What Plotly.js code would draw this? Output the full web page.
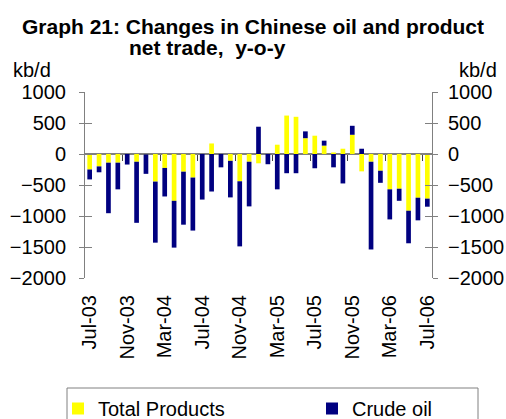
<!DOCTYPE html>
<html>
<head>
<meta charset="utf-8">
<script src="https://cdn.plot.ly/plotly-3.0.1.min.js"></script>
<style>
  html, body { margin: 0; padding: 0; background: #ffffff; }
  #chart { width: 506px; height: 419px; }
</style>
</head>
<body>
<div id="chart"></div>
<script>
// Monthly categories, Jul-03 to Jul-06
const months = ["Jul-03","Aug-03","Sep-03","Oct-03","Nov-03","Dec-03",
  "Jan-04","Feb-04","Mar-04","Apr-04","May-04","Jun-04","Jul-04","Aug-04","Sep-04","Oct-04","Nov-04","Dec-04",
  "Jan-05","Feb-05","Mar-05","Apr-05","May-05","Jun-05","Jul-05","Aug-05","Sep-05","Oct-05","Nov-05","Dec-05",
  "Jan-06","Feb-06","Mar-06","Apr-06","May-06","Jun-06","Jul-06"];

// Total Products y-o-y change (kb/d)
const totalProducts = [-250, -200, -140, -140, 0, -125,
  -5, -445, -225, -755, -285, -380, 0, 170, 0, -110, -440, -125,
  -150, 0, 150, 620, 600, 255, 295, 135, 25, 85, 310, -280,
  -125, -270, -570, -560, -915, -705, -720];

// Crude oil y-o-y change (kb/d)
const crudeOil = [-160, -95, -815, -430, -170, -985,
  -315, -985, -460, -755, -855, -855, -735, -605, -215, -590, -1050, -720,
  440, -165, -570, -310, -310, 110, -230, 80, -215, -475, 145, 85,
  -1415, -195, -485, -195, -525, -365, -130];

// Labelled months on the category axis
const tickLabels = ["Jul-03","Nov-03","Mar-04","Jul-04","Nov-04","Mar-05","Jul-05","Nov-05","Mar-06","Jul-06"];
const yTicks = [1000, 500, 0, -500, -1000, -1500, -2000];

// Tick marks on the zero line sit at the boundary before each labelled month
const boundaryTicks = tickLabels.slice(1).map(m => months.indexOf(m) - 0.5);

const FONT = '"Liberation Sans", Arial, sans-serif';

// plot area in pixels (used only to convert layout positions to paper fractions)
const PL = 85, PR = 432, PT = 92, PB = 278;
const px = v => (v - PL) / (PR - PL);
const py = v => (PB - v) / (PB - PT);

const traces = [
  {
    type: 'bar', name: 'Total Products', x: months, y: totalProducts,
    marker: { color: '#FFFF00', line: { width: 0 } }, legend: 'legend'
  },
  {
    type: 'bar', name: 'Crude oil', x: months, y: crudeOil,
    marker: { color: '#000080', line: { width: 0 } }, legend: 'legend2'
  },
  {
    // helper trace so the overlay axes (zero-line ticks, right axis) are drawn
    type: 'scatter', mode: 'markers', x: [0], y: [null],
    xaxis: 'x2', yaxis: 'y2', showlegend: false, hoverinfo: 'skip'
  }
];

const yZeroPos = (0 - yTicks[yTicks.length - 1]) / (yTicks[0] - yTicks[yTicks.length - 1]);

const legendCommon = {
  orientation: 'h', xanchor: 'left', yanchor: 'top',
  borderwidth: 0, bgcolor: 'rgba(0,0,0,0)',
  font: { family: FONT, size: 20, color: '#000000' }
};

const layout = {
  width: 506, height: 419,
  margin: { l: PL, r: 506 - PR, t: PT, b: 419 - PB, autoexpand: false },
  paper_bgcolor: '#ffffff', plot_bgcolor: '#ffffff',
  font: { family: FONT, size: 20, color: '#000000' },
  barmode: 'relative', bargap: 0.5,
  title: {
    text: 'Graph 21: Changes in Chinese oil and product',
    font: { family: FONT, size: 21, color: '#000000', weight: 'bold' },
    x: 0.5, xref: 'container', xanchor: 'center',
    y: 1 - 19 / 419, yref: 'container', yanchor: 'top'
  },
  xaxis: {
    type: 'category', range: [-0.5, months.length - 0.5], automargin: false,
    tickmode: 'array', tickvals: tickLabels, ticktext: tickLabels,
    tickangle: -90, ticks: '', showline: false, showgrid: false, zeroline: false,
    ticklabelstandoff: 12, tickfont: { family: FONT, size: 20, color: '#000000' }
  },
  xaxis2: {
    overlaying: 'x', anchor: 'free', position: yZeroPos, type: 'linear',
    range: [-0.5, months.length - 0.5], automargin: false,
    tickmode: 'array', tickvals: boundaryTicks,
    ticks: 'outside', ticklen: 6, tickwidth: 1, tickcolor: '#404040',
    showticklabels: false, showline: false, showgrid: false, zeroline: false
  },
  yaxis: {
    range: [yTicks[yTicks.length - 1], yTicks[0]], automargin: false,
    tickmode: 'array', tickvals: yTicks,
    ticks: 'outside', ticklen: 5, tickwidth: 1, tickcolor: '#808080',
    showline: true, linecolor: '#808080', linewidth: 1, mirror: 'ticks',
    showgrid: false, zeroline: true, zerolinecolor: '#808080', zerolinewidth: 2,
    ticklabelstandoff: 9, tickfont: { family: FONT, size: 20, color: '#000000' }
  },
  yaxis2: {
    overlaying: 'y', side: 'right', anchor: 'x', automargin: false,
    range: [yTicks[yTicks.length - 1], yTicks[0]],
    tickmode: 'array', tickvals: yTicks,
    ticks: 'inside', ticklen: 7, tickwidth: 1, tickcolor: '#808080',
    showline: true, linecolor: '#808080', linewidth: 1, mirror: 'ticks',
    showgrid: false, zeroline: false,
    ticklabelstandoff: 11, tickfont: { family: FONT, size: 20, color: '#000000' }
  },
  showlegend: true,
  legend: Object.assign({}, legendCommon, { x: px(58), y: py(389) }),
  legend2: Object.assign({}, legendCommon, { x: px(312), y: py(389) }),
  shapes: [
    {
      // legend frame
      type: 'rect', xref: 'paper', yref: 'paper',
      x0: px(67), x1: px(478), y0: py(388), y1: py(430),
      line: { color: '#808080', width: 1 }, fillcolor: 'rgba(0,0,0,0)', layer: 'below'
    }
  ],
  annotations: [
    {
      text: 'net trade,  y-o-y', showarrow: false,
      xref: 'paper', yref: 'paper', x: px(207), y: py(47),
      xanchor: 'center', yanchor: 'middle',
      font: { family: FONT, size: 21, color: '#000000', weight: 'bold' }
    },
    {
      text: 'kb/d', showarrow: false,
      xref: 'paper', yref: 'paper', x: px(11), y: py(70),
      xanchor: 'left', yanchor: 'middle',
      font: { family: FONT, size: 20, color: '#000000' }
    },
    {
      text: 'kb/d', showarrow: false,
      xref: 'paper', yref: 'paper', x: px(499), y: py(70),
      xanchor: 'right', yanchor: 'middle',
      font: { family: FONT, size: 20, color: '#000000' }
    }
  ]
};

Plotly.newPlot('chart', traces, layout, { displayModeBar: false, staticPlot: true });
</script>
</body>
</html>
